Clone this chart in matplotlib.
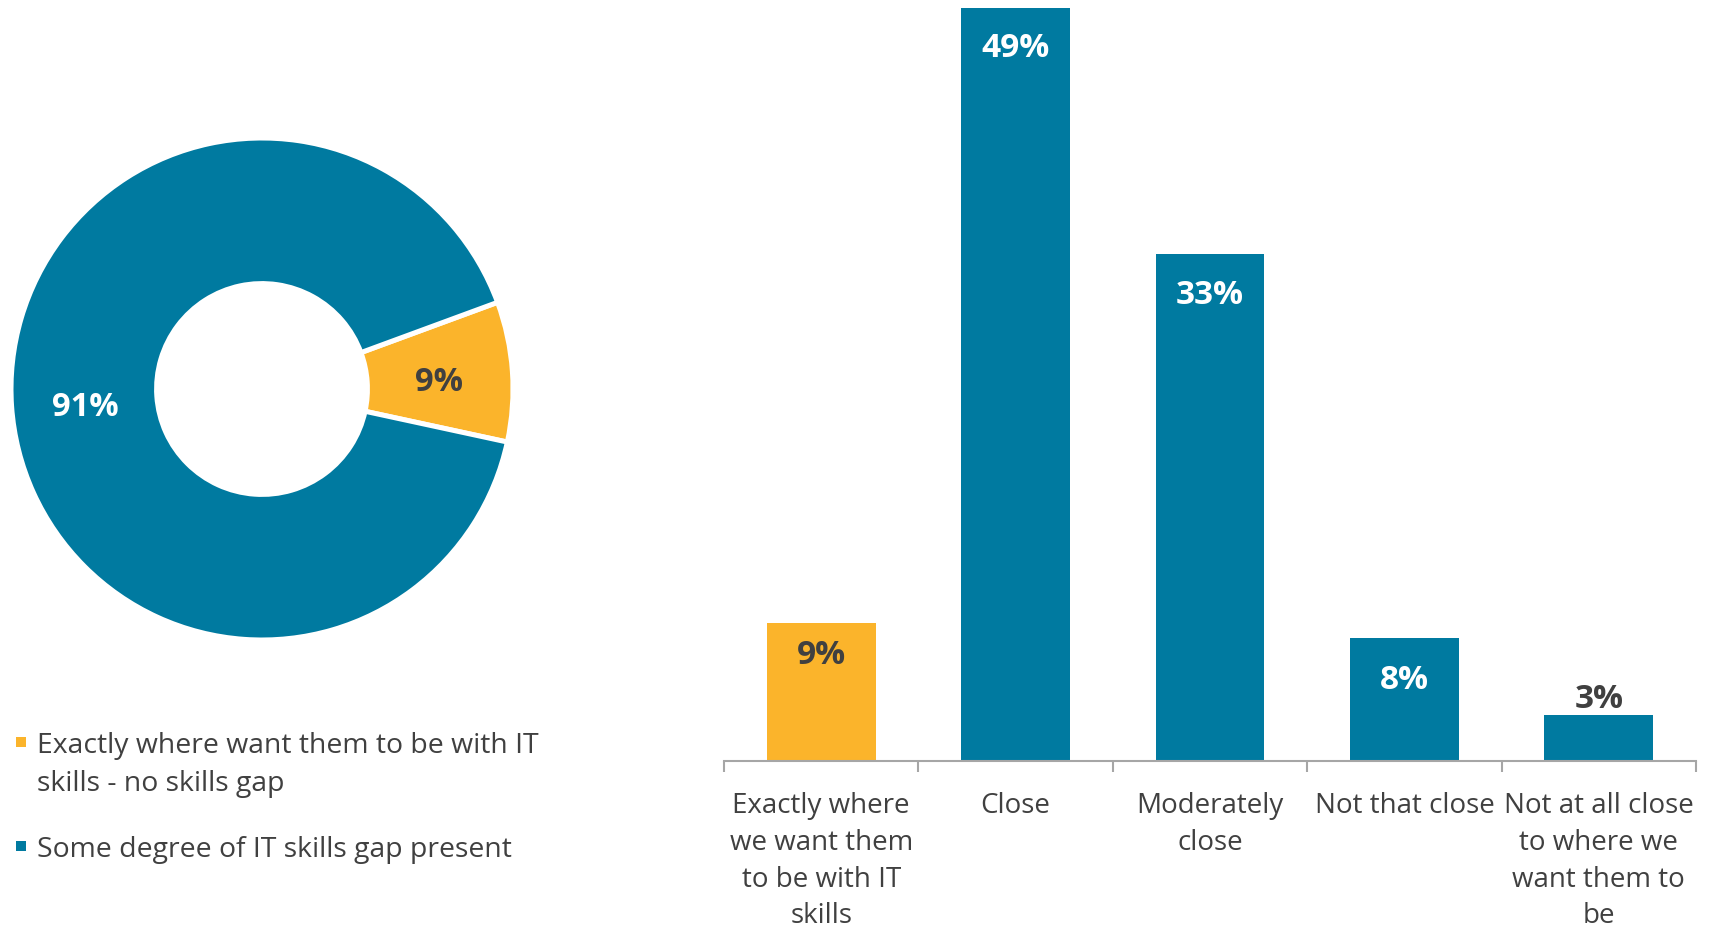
import matplotlib
matplotlib.use("Agg")
import matplotlib.pyplot as plt
from matplotlib.patches import Rectangle
import numpy as np

# ---- data ----
pie_labels = ["Exactly where want them to be with IT\nskills - no skills gap",
              "Some degree of IT skills gap present"]
pie_values = [9, 91]
pie_pct_text = ["9%", "91%"]

bar_categories = ["Exactly where\nwe want them\nto be with IT\nskills",
                  "Close",
                  "Moderately\nclose",
                  "Not that close",
                  "Not at all close\nto where we\nwant them to\nbe"]
bar_values = [9, 49, 33, 8, 3]
bar_text = ["9%", "49%", "33%", "8%", "3%"]

# ---- style ----
BLUE = "#007AA0"
YELLOW = "#FBB42B"
DARK = "#404040"
GRAY = "#A6A6A6"
FONT = ["Open Sans", "DejaVu Sans"]
plt.rcParams["font.family"] = FONT

W, H = 1712, 931
fig = plt.figure(figsize=(W / 100, H / 100), dpi=100)

# ---- donut ----
cx, cy, r = 262, 389, 251
axp = fig.add_axes([(cx - r) / W, (H - cy - r) / H, 2 * r / W, 2 * r / H])
pie_colors = [YELLOW, BLUE]
wedges, _ = axp.pie(pie_values, colors=pie_colors, startangle=-12.2,
                    counterclock=True, radius=1,
                    wedgeprops=dict(width=0.58, edgecolor="white", linewidth=3.6))
axp.set_xlim(-1, 1)
axp.set_ylim(-1, 1)
axp.set_aspect("equal")
axp.axis("off")
for w, txt, col in zip(wedges, pie_pct_text, [DARK, "white"]):
    ang = np.deg2rad((w.theta1 + w.theta2) / 2)
    rr = 0.705
    axp.annotate(txt, (rr * np.cos(ang), rr * np.sin(ang)), xytext=(0, -6),
                 textcoords="offset pixels", ha="center", va="center",
                 fontsize=23.5, fontweight="bold", color=col)

# ---- legend (manual) ----
leg_y = [742, 846]
for lab, col, y in zip(pie_labels, pie_colors, leg_y):
    fig.patches.append(Rectangle((16 / W, (H - y - 5) / H), 10 / W, 10 / H,
                                 transform=fig.transFigure, facecolor=col,
                                 edgecolor="none"))
    fig.text(37 / W, (H - y + 10) / H, lab, ha="left", va="top", fontsize=20.4,
             color=DARK, linespacing=1.5)

# ---- bar chart ----
axb = fig.add_axes([724 / W, (H - 761) / H, (1696 - 724) / W, 761 / H])
x = np.arange(len(bar_values))
bar_colors = [YELLOW, BLUE, BLUE, BLUE, BLUE]
bars = axb.bar(x, bar_values, width=0.56, color=bar_colors)
axb.set_xlim(-0.5, len(bar_values) - 0.5)
axb.set_ylim(0, 49.5)
for s in ["top", "right", "left"]:
    axb.spines[s].set_visible(False)
axb.spines["bottom"].set_color(GRAY)
axb.spines["bottom"].set_linewidth(1.5)
axb.set_yticks([])
axb.set_xticks(np.arange(len(bar_values) + 1) - 0.5)
axb.set_xticklabels([])
axb.tick_params(axis="x", length=8, width=1.5, color=GRAY)
for xi, cat in zip(x, bar_categories):
    axb.annotate(cat, (xi, 0), xytext=(0, -31), textcoords="offset pixels",
                 ha="center", va="top", fontsize=20, color=DARK,
                 linespacing=1.42, annotation_clip=False)

label_offsets = [-33, -41, -42, -42, 15]
for b, txt, off in zip(bars, bar_text, label_offsets):
    col = "white" if off < 0 and b.get_facecolor()[2] > 0.5 else DARK
    axb.annotate(txt, (b.get_x() + b.get_width() / 2, b.get_height()),
                 xytext=(0, off), textcoords="offset pixels",
                 ha="center", va="center", fontsize=24, fontweight="bold",
                 color=col, annotation_clip=False)

fig.savefig("out.png", dpi=100, facecolor="white")
